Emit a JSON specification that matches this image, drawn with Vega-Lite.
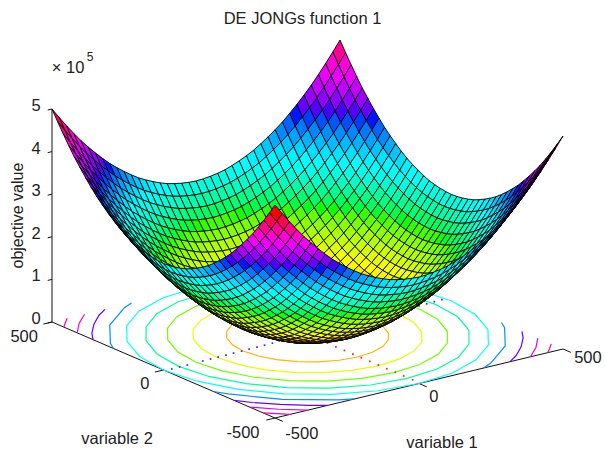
{"$schema":"https://vega.github.io/schema/vega-lite/v6.json","width":605,"height":452,"padding":0,"autosize":{"type":"none"},"background":"white","config":{"view":{"stroke":null}},
"title":{"text":"DE JONGs function 1","font":"Liberation Sans","fontSize":16.5,"fontWeight":"normal","color":"#222","offset":-27,"anchor":"middle"},
"params":[{"name":"s","value":25}],
"datasets":{
"axes":[{"a":-500,"b":-500,"z":0,"a2":500,"b2":-500,"z2":0},{"a":-500,"b":-500,"z":0,"a2":-500,"b2":500,"z2":0},{"a":-500,"b":500,"z":0,"a2":-500,"b2":500,"z2":5},
{"a":-500,"b":500,"z":0,"a2":-515,"b2":500,"z2":0},{"a":-500,"b":500,"z":1,"a2":-515,"b2":500,"z2":1},{"a":-500,"b":500,"z":2,"a2":-515,"b2":500,"z2":2},{"a":-500,"b":500,"z":3,"a2":-515,"b2":500,"z2":3},{"a":-500,"b":500,"z":4,"a2":-515,"b2":500,"z2":4},{"a":-500,"b":500,"z":5,"a2":-515,"b2":500,"z2":5},
{"a":-500,"b":-500,"z":0,"a2":-500,"b2":-535,"z2":0},{"a":0,"b":-500,"z":0,"a2":0,"b2":-535,"z2":0},{"a":500,"b":-500,"z":0,"a2":500,"b2":-535,"z2":0},
{"a":-500,"b":-500,"z":0,"a2":-530,"b2":-500,"z2":0},{"a":-500,"b":0,"z":0,"a2":-530,"b2":0,"z2":0},{"a":-500,"b":500,"z":0,"a2":-530,"b2":500,"z2":0}],
"dots":[{"series":"v1","a":-476,"b":-6},{"series":"v1","a":-448,"b":-5},{"series":"v1","a":-421,"b":-5},{"series":"v1","a":-366,"b":-3},{"series":"v1","a":-338,"b":-2},{"series":"v1","a":-311,"b":-1},{"series":"v1","a":-283,"b":0},{"series":"v1","a":-256,"b":1},{"series":"v1","a":-228,"b":1},{"series":"v1","a":-201,"b":2},{"series":"v1","a":-173,"b":3},{"series":"v1","a":-146,"b":4},{"series":"v1","a":-118,"b":5},{"series":"v1","a":-91,"b":9},{"series":"v1","a":402,"b":19},{"series":"v1","a":430,"b":21},{"series":"v1","a":458,"b":23},{"series":"v1","a":486,"b":25},
{"series":"v2","a":5,"b":-83},{"series":"v2","a":5,"b":-121},{"series":"v2","a":5,"b":-159},{"series":"v2","a":5,"b":-197},{"series":"v2","a":5,"b":-235},{"series":"v2","a":5,"b":-273},{"series":"v2","a":5,"b":-311},{"series":"v2","a":5,"b":-349},{"series":"v2","a":5,"b":-387},{"series":"v2","a":5,"b":-425},{"series":"v2","a":5,"b":-465}],
"contours":[
{"k":"c1","l":0.5,"a":224,"b":0},{"k":"c1","l":0.5,"a":216,"b":58},{"k":"c1","l":0.5,"a":194,"b":112},{"k":"c1","l":0.5,"a":158,"b":158},{"k":"c1","l":0.5,"a":112,"b":194},{"k":"c1","l":0.5,"a":58,"b":216},{"k":"c1","l":0.5,"a":0,"b":224},{"k":"c1","l":0.5,"a":-58,"b":216},{"k":"c1","l":0.5,"a":-112,"b":194},{"k":"c1","l":0.5,"a":-158,"b":158},{"k":"c1","l":0.5,"a":-194,"b":112},{"k":"c1","l":0.5,"a":-216,"b":58},{"k":"c1","l":0.5,"a":-224,"b":0},{"k":"c1","l":0.5,"a":-216,"b":-58},{"k":"c1","l":0.5,"a":-194,"b":-112},{"k":"c1","l":0.5,"a":-158,"b":-158},{"k":"c1","l":0.5,"a":-112,"b":-194},{"k":"c1","l":0.5,"a":-58,"b":-216},{"k":"c1","l":0.5,"a":0,"b":-224},{"k":"c1","l":0.5,"a":58,"b":-216},{"k":"c1","l":0.5,"a":112,"b":-194},{"k":"c1","l":0.5,"a":158,"b":-158},{"k":"c1","l":0.5,"a":194,"b":-112},{"k":"c1","l":0.5,"a":216,"b":-58},{"k":"c1","l":0.5,"a":224,"b":0},
{"k":"c2","l":1,"a":316,"b":0},{"k":"c2","l":1,"a":305,"b":82},{"k":"c2","l":1,"a":274,"b":158},{"k":"c2","l":1,"a":224,"b":224},{"k":"c2","l":1,"a":158,"b":274},{"k":"c2","l":1,"a":82,"b":305},{"k":"c2","l":1,"a":0,"b":316},{"k":"c2","l":1,"a":-82,"b":305},{"k":"c2","l":1,"a":-158,"b":274},{"k":"c2","l":1,"a":-224,"b":224},{"k":"c2","l":1,"a":-274,"b":158},{"k":"c2","l":1,"a":-305,"b":82},{"k":"c2","l":1,"a":-316,"b":0},{"k":"c2","l":1,"a":-305,"b":-82},{"k":"c2","l":1,"a":-274,"b":-158},{"k":"c2","l":1,"a":-224,"b":-224},{"k":"c2","l":1,"a":-158,"b":-274},{"k":"c2","l":1,"a":-82,"b":-305},{"k":"c2","l":1,"a":0,"b":-316},{"k":"c2","l":1,"a":82,"b":-305},{"k":"c2","l":1,"a":158,"b":-274},{"k":"c2","l":1,"a":224,"b":-224},{"k":"c2","l":1,"a":274,"b":-158},{"k":"c2","l":1,"a":305,"b":-82},{"k":"c2","l":1,"a":316,"b":0},
{"k":"c3","l":1.5,"a":387,"b":0},{"k":"c3","l":1.5,"a":374,"b":100},{"k":"c3","l":1.5,"a":335,"b":194},{"k":"c3","l":1.5,"a":274,"b":274},{"k":"c3","l":1.5,"a":194,"b":335},{"k":"c3","l":1.5,"a":100,"b":374},{"k":"c3","l":1.5,"a":0,"b":387},{"k":"c3","l":1.5,"a":-100,"b":374},{"k":"c3","l":1.5,"a":-194,"b":335},{"k":"c3","l":1.5,"a":-274,"b":274},{"k":"c3","l":1.5,"a":-335,"b":194},{"k":"c3","l":1.5,"a":-374,"b":100},{"k":"c3","l":1.5,"a":-387,"b":0},{"k":"c3","l":1.5,"a":-374,"b":-100},{"k":"c3","l":1.5,"a":-335,"b":-194},{"k":"c3","l":1.5,"a":-274,"b":-274},{"k":"c3","l":1.5,"a":-194,"b":-335},{"k":"c3","l":1.5,"a":-100,"b":-374},{"k":"c3","l":1.5,"a":0,"b":-387},{"k":"c3","l":1.5,"a":100,"b":-374},{"k":"c3","l":1.5,"a":194,"b":-335},{"k":"c3","l":1.5,"a":274,"b":-274},{"k":"c3","l":1.5,"a":335,"b":-194},{"k":"c3","l":1.5,"a":374,"b":-100},{"k":"c3","l":1.5,"a":387,"b":0},
{"k":"c4","l":2,"a":447,"b":0},{"k":"c4","l":2,"a":432,"b":116},{"k":"c4","l":2,"a":387,"b":224},{"k":"c4","l":2,"a":316,"b":316},{"k":"c4","l":2,"a":224,"b":387},{"k":"c4","l":2,"a":116,"b":432},{"k":"c4","l":2,"a":0,"b":447},{"k":"c4","l":2,"a":-116,"b":432},{"k":"c4","l":2,"a":-224,"b":387},{"k":"c4","l":2,"a":-316,"b":316},{"k":"c4","l":2,"a":-387,"b":224},{"k":"c4","l":2,"a":-432,"b":116},{"k":"c4","l":2,"a":-447,"b":0},{"k":"c4","l":2,"a":-432,"b":-116},{"k":"c4","l":2,"a":-387,"b":-224},{"k":"c4","l":2,"a":-316,"b":-316},{"k":"c4","l":2,"a":-224,"b":-387},{"k":"c4","l":2,"a":-116,"b":-432},{"k":"c4","l":2,"a":0,"b":-447},{"k":"c4","l":2,"a":116,"b":-432},{"k":"c4","l":2,"a":224,"b":-387},{"k":"c4","l":2,"a":316,"b":-316},{"k":"c4","l":2,"a":387,"b":-224},{"k":"c4","l":2,"a":432,"b":-116},{"k":"c4","l":2,"a":447,"b":0},
{"k":"c5","l":2.5,"a":500,"b":0},{"k":"c5","l":2.5,"a":483,"b":129},{"k":"c5","l":2.5,"a":433,"b":250},{"k":"c5","l":2.5,"a":354,"b":354},{"k":"c5","l":2.5,"a":250,"b":433},{"k":"c5","l":2.5,"a":129,"b":483},{"k":"c5","l":2.5,"a":0,"b":500},{"k":"c5","l":2.5,"a":-129,"b":483},{"k":"c5","l":2.5,"a":-250,"b":433},{"k":"c5","l":2.5,"a":-354,"b":354},{"k":"c5","l":2.5,"a":-433,"b":250},{"k":"c5","l":2.5,"a":-483,"b":129},{"k":"c5","l":2.5,"a":-500,"b":0},{"k":"c5","l":2.5,"a":-483,"b":-129},{"k":"c5","l":2.5,"a":-433,"b":-250},{"k":"c5","l":2.5,"a":-354,"b":-354},{"k":"c5","l":2.5,"a":-250,"b":-433},{"k":"c5","l":2.5,"a":-129,"b":-483},{"k":"c5","l":2.5,"a":0,"b":-500},{"k":"c5","l":2.5,"a":129,"b":-483},{"k":"c5","l":2.5,"a":250,"b":-433},{"k":"c5","l":2.5,"a":354,"b":-354},{"k":"c5","l":2.5,"a":433,"b":-250},{"k":"c5","l":2.5,"a":483,"b":-129},{"k":"c5","l":2.5,"a":500,"b":0},
{"k":"f6","l":3,"a":-500,"b":-224},{"k":"f6","l":3,"a":-480,"b":-264},{"k":"f6","l":3,"a":-387,"b":-387},{"k":"f6","l":3,"a":-264,"b":-480},{"k":"f6","l":3,"a":-224,"b":-500},
{"k":"f7","l":3.5,"a":-500,"b":-316},{"k":"f7","l":3.5,"a":-470,"b":-360},{"k":"f7","l":3.5,"a":-418,"b":-418},{"k":"f7","l":3.5,"a":-360,"b":-470},{"k":"f7","l":3.5,"a":-316,"b":-500},
{"k":"f8","l":4,"a":-500,"b":-387},{"k":"f8","l":4,"a":-447,"b":-447},{"k":"f8","l":4,"a":-387,"b":-500},
{"k":"f9","l":4.5,"a":-500,"b":-447},{"k":"f9","l":4.5,"a":-474,"b":-474},{"k":"f9","l":4.5,"a":-447,"b":-500},
{"k":"l6","l":3,"a":-500,"b":224},{"k":"l6","l":3,"a":-480,"b":264},{"k":"l6","l":3,"a":-387,"b":387},{"k":"l6","l":3,"a":-264,"b":480},{"k":"l6","l":3,"a":-224,"b":500},
{"k":"l7","l":3.5,"a":-500,"b":316},{"k":"l7","l":3.5,"a":-470,"b":360},{"k":"l7","l":3.5,"a":-418,"b":418},{"k":"l7","l":3.5,"a":-360,"b":470},{"k":"l7","l":3.5,"a":-316,"b":500},
{"k":"l8","l":4,"a":-500,"b":387},{"k":"l8","l":4,"a":-447,"b":447},{"k":"l8","l":4,"a":-387,"b":500},
{"k":"l9","l":4.5,"a":-500,"b":447},{"k":"l9","l":4.5,"a":-474,"b":474},{"k":"l9","l":4.5,"a":-447,"b":500},
{"k":"r6","l":3,"a":500,"b":-224},{"k":"r6","l":3,"a":480,"b":-264},{"k":"r6","l":3,"a":387,"b":-387},{"k":"r6","l":3,"a":264,"b":-480},{"k":"r6","l":3,"a":224,"b":-500},
{"k":"r7","l":3.5,"a":500,"b":-316},{"k":"r7","l":3.5,"a":470,"b":-360},{"k":"r7","l":3.5,"a":418,"b":-418},{"k":"r7","l":3.5,"a":360,"b":-470},{"k":"r7","l":3.5,"a":316,"b":-500},
{"k":"r8","l":4,"a":500,"b":-387},{"k":"r8","l":4,"a":447,"b":-447},{"k":"r8","l":4,"a":387,"b":-500},
{"k":"r9","l":4.5,"a":500,"b":-447},{"k":"r9","l":4.5,"a":474,"b":-474},{"k":"r9","l":4.5,"a":447,"b":-500}],
"labels":[{"t":"500","a":-640,"b":444,"z":0},{"t":"0","a":-614,"b":-64,"z":0},{"t":"-500","a":-649,"b":-549,"z":0},{"t":"-500","a":-523,"b":-650,"z":0},{"t":"0","a":-37,"b":-614,"z":0},{"t":"500","a":509,"b":-600,"z":0},{"t":"variable 2","a":-961,"b":-387,"z":0},{"t":"variable 1","a":-257,"b":-935,"z":0},{"t":"0","a":-520,"b":545,"z":0},{"t":"1","a":-520,"b":545,"z":1},{"t":"2","a":-520,"b":545,"z":2},{"t":"3","a":-520,"b":545,"z":3},{"t":"4","a":-520,"b":545,"z":4},{"t":"5","a":-520,"b":545,"z":5},{"t":"× 10","a":-444,"b":500,"z":5.87}],
"sup":[{"t":"5","a":-368,"b":500,"z":6}],
"zlabel":[{"t":"objective value","a":-576,"b":554,"z":2.5}],
"surface":[
{"a":500,"b":500,"z":5},{"a":500,"b":475,"z":4.76},{"a":500,"b":450,"z":4.53},{"a":500,"b":425,"z":4.31},{"a":500,"b":400,"z":4.1},{"a":500,"b":375,"z":3.91},{"a":500,"b":350,"z":3.73},{"a":500,"b":325,"z":3.56},{"a":500,"b":300,"z":3.4},{"a":500,"b":275,"z":3.26},{"a":500,"b":250,"z":3.13},{"a":500,"b":225,"z":3.01},{"a":500,"b":200,"z":2.9},{"a":500,"b":175,"z":2.81},{"a":500,"b":150,"z":2.73},{"a":500,"b":125,"z":2.66},{"a":500,"b":100,"z":2.6},{"a":500,"b":75,"z":2.56},{"a":500,"b":50,"z":2.53},{"a":500,"b":25,"z":2.51},{"a":500,"b":0,"z":2.5},{"a":500,"b":-25,"z":2.51},{"a":500,"b":-50,"z":2.53},{"a":500,"b":-75,"z":2.56},{"a":500,"b":-100,"z":2.6},{"a":500,"b":-125,"z":2.66},{"a":500,"b":-150,"z":2.73},{"a":500,"b":-175,"z":2.81},{"a":500,"b":-200,"z":2.9},{"a":500,"b":-225,"z":3.01},{"a":500,"b":-250,"z":3.13},{"a":500,"b":-275,"z":3.26},{"a":500,"b":-300,"z":3.4},{"a":500,"b":-325,"z":3.56},{"a":500,"b":-350,"z":3.73},{"a":500,"b":-375,"z":3.91},{"a":500,"b":-400,"z":4.1},{"a":500,"b":-425,"z":4.31},{"a":500,"b":-450,"z":4.53},{"a":500,"b":-475,"z":4.76},{"a":500,"b":-500,"z":5},
{"a":475,"b":500,"z":4.76},{"a":475,"b":475,"z":4.52},{"a":475,"b":450,"z":4.29},{"a":475,"b":425,"z":4.07},{"a":475,"b":400,"z":3.86},{"a":475,"b":375,"z":3.67},{"a":475,"b":350,"z":3.49},{"a":475,"b":325,"z":3.32},{"a":475,"b":300,"z":3.16},{"a":475,"b":275,"z":3.02},{"a":475,"b":250,"z":2.89},{"a":475,"b":225,"z":2.77},{"a":475,"b":200,"z":2.66},{"a":475,"b":175,"z":2.57},{"a":475,"b":150,"z":2.49},{"a":475,"b":125,"z":2.42},{"a":475,"b":100,"z":2.36},{"a":475,"b":75,"z":2.32},{"a":475,"b":50,"z":2.29},{"a":475,"b":25,"z":2.27},{"a":475,"b":0,"z":2.26},{"a":475,"b":-25,"z":2.27},{"a":475,"b":-50,"z":2.29},{"a":475,"b":-75,"z":2.32},{"a":475,"b":-100,"z":2.36},{"a":475,"b":-125,"z":2.42},{"a":475,"b":-150,"z":2.49},{"a":475,"b":-175,"z":2.57},{"a":475,"b":-200,"z":2.66},{"a":475,"b":-225,"z":2.77},{"a":475,"b":-250,"z":2.89},{"a":475,"b":-275,"z":3.02},{"a":475,"b":-300,"z":3.16},{"a":475,"b":-325,"z":3.32},{"a":475,"b":-350,"z":3.49},{"a":475,"b":-375,"z":3.67},{"a":475,"b":-400,"z":3.86},{"a":475,"b":-425,"z":4.07},{"a":475,"b":-450,"z":4.29},{"a":475,"b":-475,"z":4.52},{"a":475,"b":-500,"z":4.76},
{"a":450,"b":500,"z":4.53},{"a":450,"b":475,"z":4.29},{"a":450,"b":450,"z":4.06},{"a":450,"b":425,"z":3.84},{"a":450,"b":400,"z":3.63},{"a":450,"b":375,"z":3.44},{"a":450,"b":350,"z":3.26},{"a":450,"b":325,"z":3.09},{"a":450,"b":300,"z":2.93},{"a":450,"b":275,"z":2.79},{"a":450,"b":250,"z":2.66},{"a":450,"b":225,"z":2.54},{"a":450,"b":200,"z":2.43},{"a":450,"b":175,"z":2.34},{"a":450,"b":150,"z":2.26},{"a":450,"b":125,"z":2.19},{"a":450,"b":100,"z":2.13},{"a":450,"b":75,"z":2.09},{"a":450,"b":50,"z":2.06},{"a":450,"b":25,"z":2.04},{"a":450,"b":0,"z":2.03},{"a":450,"b":-25,"z":2.04},{"a":450,"b":-50,"z":2.06},{"a":450,"b":-75,"z":2.09},{"a":450,"b":-100,"z":2.13},{"a":450,"b":-125,"z":2.19},{"a":450,"b":-150,"z":2.26},{"a":450,"b":-175,"z":2.34},{"a":450,"b":-200,"z":2.43},{"a":450,"b":-225,"z":2.54},{"a":450,"b":-250,"z":2.66},{"a":450,"b":-275,"z":2.79},{"a":450,"b":-300,"z":2.93},{"a":450,"b":-325,"z":3.09},{"a":450,"b":-350,"z":3.26},{"a":450,"b":-375,"z":3.44},{"a":450,"b":-400,"z":3.63},{"a":450,"b":-425,"z":3.84},{"a":450,"b":-450,"z":4.06},{"a":450,"b":-475,"z":4.29},{"a":450,"b":-500,"z":4.53},
{"a":425,"b":500,"z":4.31},{"a":425,"b":475,"z":4.07},{"a":425,"b":450,"z":3.84},{"a":425,"b":425,"z":3.62},{"a":425,"b":400,"z":3.41},{"a":425,"b":375,"z":3.22},{"a":425,"b":350,"z":3.04},{"a":425,"b":325,"z":2.87},{"a":425,"b":300,"z":2.71},{"a":425,"b":275,"z":2.57},{"a":425,"b":250,"z":2.44},{"a":425,"b":225,"z":2.32},{"a":425,"b":200,"z":2.21},{"a":425,"b":175,"z":2.12},{"a":425,"b":150,"z":2.04},{"a":425,"b":125,"z":1.97},{"a":425,"b":100,"z":1.91},{"a":425,"b":75,"z":1.87},{"a":425,"b":50,"z":1.84},{"a":425,"b":25,"z":1.82},{"a":425,"b":0,"z":1.81},{"a":425,"b":-25,"z":1.82},{"a":425,"b":-50,"z":1.84},{"a":425,"b":-75,"z":1.87},{"a":425,"b":-100,"z":1.91},{"a":425,"b":-125,"z":1.97},{"a":425,"b":-150,"z":2.04},{"a":425,"b":-175,"z":2.12},{"a":425,"b":-200,"z":2.21},{"a":425,"b":-225,"z":2.32},{"a":425,"b":-250,"z":2.44},{"a":425,"b":-275,"z":2.57},{"a":425,"b":-300,"z":2.71},{"a":425,"b":-325,"z":2.87},{"a":425,"b":-350,"z":3.04},{"a":425,"b":-375,"z":3.22},{"a":425,"b":-400,"z":3.41},{"a":425,"b":-425,"z":3.62},{"a":425,"b":-450,"z":3.84},{"a":425,"b":-475,"z":4.07},{"a":425,"b":-500,"z":4.31},
{"a":400,"b":500,"z":4.1},{"a":400,"b":475,"z":3.86},{"a":400,"b":450,"z":3.63},{"a":400,"b":425,"z":3.41},{"a":400,"b":400,"z":3.2},{"a":400,"b":375,"z":3.01},{"a":400,"b":350,"z":2.83},{"a":400,"b":325,"z":2.66},{"a":400,"b":300,"z":2.5},{"a":400,"b":275,"z":2.36},{"a":400,"b":250,"z":2.23},{"a":400,"b":225,"z":2.11},{"a":400,"b":200,"z":2},{"a":400,"b":175,"z":1.91},{"a":400,"b":150,"z":1.83},{"a":400,"b":125,"z":1.76},{"a":400,"b":100,"z":1.7},{"a":400,"b":75,"z":1.66},{"a":400,"b":50,"z":1.63},{"a":400,"b":25,"z":1.61},{"a":400,"b":0,"z":1.6},{"a":400,"b":-25,"z":1.61},{"a":400,"b":-50,"z":1.63},{"a":400,"b":-75,"z":1.66},{"a":400,"b":-100,"z":1.7},{"a":400,"b":-125,"z":1.76},{"a":400,"b":-150,"z":1.83},{"a":400,"b":-175,"z":1.91},{"a":400,"b":-200,"z":2},{"a":400,"b":-225,"z":2.11},{"a":400,"b":-250,"z":2.23},{"a":400,"b":-275,"z":2.36},{"a":400,"b":-300,"z":2.5},{"a":400,"b":-325,"z":2.66},{"a":400,"b":-350,"z":2.83},{"a":400,"b":-375,"z":3.01},{"a":400,"b":-400,"z":3.2},{"a":400,"b":-425,"z":3.41},{"a":400,"b":-450,"z":3.63},{"a":400,"b":-475,"z":3.86},{"a":400,"b":-500,"z":4.1},
{"a":375,"b":500,"z":3.91},{"a":375,"b":475,"z":3.67},{"a":375,"b":450,"z":3.44},{"a":375,"b":425,"z":3.22},{"a":375,"b":400,"z":3.01},{"a":375,"b":375,"z":2.82},{"a":375,"b":350,"z":2.64},{"a":375,"b":325,"z":2.47},{"a":375,"b":300,"z":2.31},{"a":375,"b":275,"z":2.17},{"a":375,"b":250,"z":2.04},{"a":375,"b":225,"z":1.92},{"a":375,"b":200,"z":1.81},{"a":375,"b":175,"z":1.72},{"a":375,"b":150,"z":1.64},{"a":375,"b":125,"z":1.57},{"a":375,"b":100,"z":1.51},{"a":375,"b":75,"z":1.47},{"a":375,"b":50,"z":1.44},{"a":375,"b":25,"z":1.42},{"a":375,"b":0,"z":1.41},{"a":375,"b":-25,"z":1.42},{"a":375,"b":-50,"z":1.44},{"a":375,"b":-75,"z":1.47},{"a":375,"b":-100,"z":1.51},{"a":375,"b":-125,"z":1.57},{"a":375,"b":-150,"z":1.64},{"a":375,"b":-175,"z":1.72},{"a":375,"b":-200,"z":1.81},{"a":375,"b":-225,"z":1.92},{"a":375,"b":-250,"z":2.04},{"a":375,"b":-275,"z":2.17},{"a":375,"b":-300,"z":2.31},{"a":375,"b":-325,"z":2.47},{"a":375,"b":-350,"z":2.64},{"a":375,"b":-375,"z":2.82},{"a":375,"b":-400,"z":3.01},{"a":375,"b":-425,"z":3.22},{"a":375,"b":-450,"z":3.44},{"a":375,"b":-475,"z":3.67},{"a":375,"b":-500,"z":3.91},
{"a":350,"b":500,"z":3.73},{"a":350,"b":475,"z":3.49},{"a":350,"b":450,"z":3.26},{"a":350,"b":425,"z":3.04},{"a":350,"b":400,"z":2.83},{"a":350,"b":375,"z":2.64},{"a":350,"b":350,"z":2.46},{"a":350,"b":325,"z":2.29},{"a":350,"b":300,"z":2.13},{"a":350,"b":275,"z":1.99},{"a":350,"b":250,"z":1.86},{"a":350,"b":225,"z":1.74},{"a":350,"b":200,"z":1.63},{"a":350,"b":175,"z":1.54},{"a":350,"b":150,"z":1.46},{"a":350,"b":125,"z":1.39},{"a":350,"b":100,"z":1.33},{"a":350,"b":75,"z":1.29},{"a":350,"b":50,"z":1.26},{"a":350,"b":25,"z":1.24},{"a":350,"b":0,"z":1.23},{"a":350,"b":-25,"z":1.24},{"a":350,"b":-50,"z":1.26},{"a":350,"b":-75,"z":1.29},{"a":350,"b":-100,"z":1.33},{"a":350,"b":-125,"z":1.39},{"a":350,"b":-150,"z":1.46},{"a":350,"b":-175,"z":1.54},{"a":350,"b":-200,"z":1.63},{"a":350,"b":-225,"z":1.74},{"a":350,"b":-250,"z":1.86},{"a":350,"b":-275,"z":1.99},{"a":350,"b":-300,"z":2.13},{"a":350,"b":-325,"z":2.29},{"a":350,"b":-350,"z":2.46},{"a":350,"b":-375,"z":2.64},{"a":350,"b":-400,"z":2.83},{"a":350,"b":-425,"z":3.04},{"a":350,"b":-450,"z":3.26},{"a":350,"b":-475,"z":3.49},{"a":350,"b":-500,"z":3.73},
{"a":325,"b":500,"z":3.56},{"a":325,"b":475,"z":3.32},{"a":325,"b":450,"z":3.09},{"a":325,"b":425,"z":2.87},{"a":325,"b":400,"z":2.66},{"a":325,"b":375,"z":2.47},{"a":325,"b":350,"z":2.29},{"a":325,"b":325,"z":2.12},{"a":325,"b":300,"z":1.96},{"a":325,"b":275,"z":1.82},{"a":325,"b":250,"z":1.69},{"a":325,"b":225,"z":1.57},{"a":325,"b":200,"z":1.46},{"a":325,"b":175,"z":1.37},{"a":325,"b":150,"z":1.29},{"a":325,"b":125,"z":1.22},{"a":325,"b":100,"z":1.16},{"a":325,"b":75,"z":1.12},{"a":325,"b":50,"z":1.09},{"a":325,"b":25,"z":1.07},{"a":325,"b":0,"z":1.06},{"a":325,"b":-25,"z":1.07},{"a":325,"b":-50,"z":1.09},{"a":325,"b":-75,"z":1.12},{"a":325,"b":-100,"z":1.16},{"a":325,"b":-125,"z":1.22},{"a":325,"b":-150,"z":1.29},{"a":325,"b":-175,"z":1.37},{"a":325,"b":-200,"z":1.46},{"a":325,"b":-225,"z":1.57},{"a":325,"b":-250,"z":1.69},{"a":325,"b":-275,"z":1.82},{"a":325,"b":-300,"z":1.96},{"a":325,"b":-325,"z":2.12},{"a":325,"b":-350,"z":2.29},{"a":325,"b":-375,"z":2.47},{"a":325,"b":-400,"z":2.66},{"a":325,"b":-425,"z":2.87},{"a":325,"b":-450,"z":3.09},{"a":325,"b":-475,"z":3.32},{"a":325,"b":-500,"z":3.56},
{"a":300,"b":500,"z":3.4},{"a":300,"b":475,"z":3.16},{"a":300,"b":450,"z":2.93},{"a":300,"b":425,"z":2.71},{"a":300,"b":400,"z":2.5},{"a":300,"b":375,"z":2.31},{"a":300,"b":350,"z":2.13},{"a":300,"b":325,"z":1.96},{"a":300,"b":300,"z":1.8},{"a":300,"b":275,"z":1.66},{"a":300,"b":250,"z":1.53},{"a":300,"b":225,"z":1.41},{"a":300,"b":200,"z":1.3},{"a":300,"b":175,"z":1.21},{"a":300,"b":150,"z":1.13},{"a":300,"b":125,"z":1.06},{"a":300,"b":100,"z":1},{"a":300,"b":75,"z":0.96},{"a":300,"b":50,"z":0.93},{"a":300,"b":25,"z":0.91},{"a":300,"b":0,"z":0.9},{"a":300,"b":-25,"z":0.91},{"a":300,"b":-50,"z":0.93},{"a":300,"b":-75,"z":0.96},{"a":300,"b":-100,"z":1},{"a":300,"b":-125,"z":1.06},{"a":300,"b":-150,"z":1.13},{"a":300,"b":-175,"z":1.21},{"a":300,"b":-200,"z":1.3},{"a":300,"b":-225,"z":1.41},{"a":300,"b":-250,"z":1.53},{"a":300,"b":-275,"z":1.66},{"a":300,"b":-300,"z":1.8},{"a":300,"b":-325,"z":1.96},{"a":300,"b":-350,"z":2.13},{"a":300,"b":-375,"z":2.31},{"a":300,"b":-400,"z":2.5},{"a":300,"b":-425,"z":2.71},{"a":300,"b":-450,"z":2.93},{"a":300,"b":-475,"z":3.16},{"a":300,"b":-500,"z":3.4},
{"a":275,"b":500,"z":3.26},{"a":275,"b":475,"z":3.02},{"a":275,"b":450,"z":2.79},{"a":275,"b":425,"z":2.57},{"a":275,"b":400,"z":2.36},{"a":275,"b":375,"z":2.17},{"a":275,"b":350,"z":1.99},{"a":275,"b":325,"z":1.82},{"a":275,"b":300,"z":1.66},{"a":275,"b":275,"z":1.52},{"a":275,"b":250,"z":1.39},{"a":275,"b":225,"z":1.27},{"a":275,"b":200,"z":1.16},{"a":275,"b":175,"z":1.07},{"a":275,"b":150,"z":0.99},{"a":275,"b":125,"z":0.92},{"a":275,"b":100,"z":0.86},{"a":275,"b":75,"z":0.82},{"a":275,"b":50,"z":0.79},{"a":275,"b":25,"z":0.77},{"a":275,"b":0,"z":0.76},{"a":275,"b":-25,"z":0.77},{"a":275,"b":-50,"z":0.79},{"a":275,"b":-75,"z":0.82},{"a":275,"b":-100,"z":0.86},{"a":275,"b":-125,"z":0.92},{"a":275,"b":-150,"z":0.99},{"a":275,"b":-175,"z":1.07},{"a":275,"b":-200,"z":1.16},{"a":275,"b":-225,"z":1.27},{"a":275,"b":-250,"z":1.39},{"a":275,"b":-275,"z":1.52},{"a":275,"b":-300,"z":1.66},{"a":275,"b":-325,"z":1.82},{"a":275,"b":-350,"z":1.99},{"a":275,"b":-375,"z":2.17},{"a":275,"b":-400,"z":2.36},{"a":275,"b":-425,"z":2.57},{"a":275,"b":-450,"z":2.79},{"a":275,"b":-475,"z":3.02},{"a":275,"b":-500,"z":3.26},
{"a":250,"b":500,"z":3.13},{"a":250,"b":475,"z":2.89},{"a":250,"b":450,"z":2.66},{"a":250,"b":425,"z":2.44},{"a":250,"b":400,"z":2.23},{"a":250,"b":375,"z":2.04},{"a":250,"b":350,"z":1.86},{"a":250,"b":325,"z":1.69},{"a":250,"b":300,"z":1.53},{"a":250,"b":275,"z":1.39},{"a":250,"b":250,"z":1.26},{"a":250,"b":225,"z":1.14},{"a":250,"b":200,"z":1.03},{"a":250,"b":175,"z":0.94},{"a":250,"b":150,"z":0.86},{"a":250,"b":125,"z":0.79},{"a":250,"b":100,"z":0.73},{"a":250,"b":75,"z":0.69},{"a":250,"b":50,"z":0.66},{"a":250,"b":25,"z":0.64},{"a":250,"b":0,"z":0.63},{"a":250,"b":-25,"z":0.64},{"a":250,"b":-50,"z":0.66},{"a":250,"b":-75,"z":0.69},{"a":250,"b":-100,"z":0.73},{"a":250,"b":-125,"z":0.79},{"a":250,"b":-150,"z":0.86},{"a":250,"b":-175,"z":0.94},{"a":250,"b":-200,"z":1.03},{"a":250,"b":-225,"z":1.14},{"a":250,"b":-250,"z":1.26},{"a":250,"b":-275,"z":1.39},{"a":250,"b":-300,"z":1.53},{"a":250,"b":-325,"z":1.69},{"a":250,"b":-350,"z":1.86},{"a":250,"b":-375,"z":2.04},{"a":250,"b":-400,"z":2.23},{"a":250,"b":-425,"z":2.44},{"a":250,"b":-450,"z":2.66},{"a":250,"b":-475,"z":2.89},{"a":250,"b":-500,"z":3.13},
{"a":225,"b":500,"z":3.01},{"a":225,"b":475,"z":2.77},{"a":225,"b":450,"z":2.54},{"a":225,"b":425,"z":2.32},{"a":225,"b":400,"z":2.11},{"a":225,"b":375,"z":1.92},{"a":225,"b":350,"z":1.74},{"a":225,"b":325,"z":1.57},{"a":225,"b":300,"z":1.41},{"a":225,"b":275,"z":1.27},{"a":225,"b":250,"z":1.14},{"a":225,"b":225,"z":1.02},{"a":225,"b":200,"z":0.91},{"a":225,"b":175,"z":0.82},{"a":225,"b":150,"z":0.74},{"a":225,"b":125,"z":0.67},{"a":225,"b":100,"z":0.61},{"a":225,"b":75,"z":0.57},{"a":225,"b":50,"z":0.54},{"a":225,"b":25,"z":0.52},{"a":225,"b":0,"z":0.51},{"a":225,"b":-25,"z":0.52},{"a":225,"b":-50,"z":0.54},{"a":225,"b":-75,"z":0.57},{"a":225,"b":-100,"z":0.61},{"a":225,"b":-125,"z":0.67},{"a":225,"b":-150,"z":0.74},{"a":225,"b":-175,"z":0.82},{"a":225,"b":-200,"z":0.91},{"a":225,"b":-225,"z":1.02},{"a":225,"b":-250,"z":1.14},{"a":225,"b":-275,"z":1.27},{"a":225,"b":-300,"z":1.41},{"a":225,"b":-325,"z":1.57},{"a":225,"b":-350,"z":1.74},{"a":225,"b":-375,"z":1.92},{"a":225,"b":-400,"z":2.11},{"a":225,"b":-425,"z":2.32},{"a":225,"b":-450,"z":2.54},{"a":225,"b":-475,"z":2.77},{"a":225,"b":-500,"z":3.01},
{"a":200,"b":500,"z":2.9},{"a":200,"b":475,"z":2.66},{"a":200,"b":450,"z":2.43},{"a":200,"b":425,"z":2.21},{"a":200,"b":400,"z":2},{"a":200,"b":375,"z":1.81},{"a":200,"b":350,"z":1.63},{"a":200,"b":325,"z":1.46},{"a":200,"b":300,"z":1.3},{"a":200,"b":275,"z":1.16},{"a":200,"b":250,"z":1.03},{"a":200,"b":225,"z":0.91},{"a":200,"b":200,"z":0.8},{"a":200,"b":175,"z":0.71},{"a":200,"b":150,"z":0.63},{"a":200,"b":125,"z":0.56},{"a":200,"b":100,"z":0.5},{"a":200,"b":75,"z":0.46},{"a":200,"b":50,"z":0.43},{"a":200,"b":25,"z":0.41},{"a":200,"b":0,"z":0.4},{"a":200,"b":-25,"z":0.41},{"a":200,"b":-50,"z":0.43},{"a":200,"b":-75,"z":0.46},{"a":200,"b":-100,"z":0.5},{"a":200,"b":-125,"z":0.56},{"a":200,"b":-150,"z":0.63},{"a":200,"b":-175,"z":0.71},{"a":200,"b":-200,"z":0.8},{"a":200,"b":-225,"z":0.91},{"a":200,"b":-250,"z":1.03},{"a":200,"b":-275,"z":1.16},{"a":200,"b":-300,"z":1.3},{"a":200,"b":-325,"z":1.46},{"a":200,"b":-350,"z":1.63},{"a":200,"b":-375,"z":1.81},{"a":200,"b":-400,"z":2},{"a":200,"b":-425,"z":2.21},{"a":200,"b":-450,"z":2.43},{"a":200,"b":-475,"z":2.66},{"a":200,"b":-500,"z":2.9},
{"a":175,"b":500,"z":2.81},{"a":175,"b":475,"z":2.57},{"a":175,"b":450,"z":2.34},{"a":175,"b":425,"z":2.12},{"a":175,"b":400,"z":1.91},{"a":175,"b":375,"z":1.72},{"a":175,"b":350,"z":1.54},{"a":175,"b":325,"z":1.37},{"a":175,"b":300,"z":1.21},{"a":175,"b":275,"z":1.07},{"a":175,"b":250,"z":0.94},{"a":175,"b":225,"z":0.82},{"a":175,"b":200,"z":0.71},{"a":175,"b":175,"z":0.62},{"a":175,"b":150,"z":0.54},{"a":175,"b":125,"z":0.47},{"a":175,"b":100,"z":0.41},{"a":175,"b":75,"z":0.37},{"a":175,"b":50,"z":0.34},{"a":175,"b":25,"z":0.32},{"a":175,"b":0,"z":0.31},{"a":175,"b":-25,"z":0.32},{"a":175,"b":-50,"z":0.34},{"a":175,"b":-75,"z":0.37},{"a":175,"b":-100,"z":0.41},{"a":175,"b":-125,"z":0.47},{"a":175,"b":-150,"z":0.54},{"a":175,"b":-175,"z":0.62},{"a":175,"b":-200,"z":0.71},{"a":175,"b":-225,"z":0.82},{"a":175,"b":-250,"z":0.94},{"a":175,"b":-275,"z":1.07},{"a":175,"b":-300,"z":1.21},{"a":175,"b":-325,"z":1.37},{"a":175,"b":-350,"z":1.54},{"a":175,"b":-375,"z":1.72},{"a":175,"b":-400,"z":1.91},{"a":175,"b":-425,"z":2.12},{"a":175,"b":-450,"z":2.34},{"a":175,"b":-475,"z":2.57},{"a":175,"b":-500,"z":2.81},
{"a":150,"b":500,"z":2.73},{"a":150,"b":475,"z":2.49},{"a":150,"b":450,"z":2.26},{"a":150,"b":425,"z":2.04},{"a":150,"b":400,"z":1.83},{"a":150,"b":375,"z":1.64},{"a":150,"b":350,"z":1.46},{"a":150,"b":325,"z":1.29},{"a":150,"b":300,"z":1.13},{"a":150,"b":275,"z":0.99},{"a":150,"b":250,"z":0.86},{"a":150,"b":225,"z":0.74},{"a":150,"b":200,"z":0.63},{"a":150,"b":175,"z":0.54},{"a":150,"b":150,"z":0.46},{"a":150,"b":125,"z":0.39},{"a":150,"b":100,"z":0.33},{"a":150,"b":75,"z":0.29},{"a":150,"b":50,"z":0.26},{"a":150,"b":25,"z":0.24},{"a":150,"b":0,"z":0.23},{"a":150,"b":-25,"z":0.24},{"a":150,"b":-50,"z":0.26},{"a":150,"b":-75,"z":0.29},{"a":150,"b":-100,"z":0.33},{"a":150,"b":-125,"z":0.39},{"a":150,"b":-150,"z":0.46},{"a":150,"b":-175,"z":0.54},{"a":150,"b":-200,"z":0.63},{"a":150,"b":-225,"z":0.74},{"a":150,"b":-250,"z":0.86},{"a":150,"b":-275,"z":0.99},{"a":150,"b":-300,"z":1.13},{"a":150,"b":-325,"z":1.29},{"a":150,"b":-350,"z":1.46},{"a":150,"b":-375,"z":1.64},{"a":150,"b":-400,"z":1.83},{"a":150,"b":-425,"z":2.04},{"a":150,"b":-450,"z":2.26},{"a":150,"b":-475,"z":2.49},{"a":150,"b":-500,"z":2.73},
{"a":125,"b":500,"z":2.66},{"a":125,"b":475,"z":2.42},{"a":125,"b":450,"z":2.19},{"a":125,"b":425,"z":1.97},{"a":125,"b":400,"z":1.76},{"a":125,"b":375,"z":1.57},{"a":125,"b":350,"z":1.39},{"a":125,"b":325,"z":1.22},{"a":125,"b":300,"z":1.06},{"a":125,"b":275,"z":0.92},{"a":125,"b":250,"z":0.79},{"a":125,"b":225,"z":0.67},{"a":125,"b":200,"z":0.56},{"a":125,"b":175,"z":0.47},{"a":125,"b":150,"z":0.39},{"a":125,"b":125,"z":0.32},{"a":125,"b":100,"z":0.26},{"a":125,"b":75,"z":0.22},{"a":125,"b":50,"z":0.19},{"a":125,"b":25,"z":0.17},{"a":125,"b":0,"z":0.16},{"a":125,"b":-25,"z":0.17},{"a":125,"b":-50,"z":0.19},{"a":125,"b":-75,"z":0.22},{"a":125,"b":-100,"z":0.26},{"a":125,"b":-125,"z":0.32},{"a":125,"b":-150,"z":0.39},{"a":125,"b":-175,"z":0.47},{"a":125,"b":-200,"z":0.56},{"a":125,"b":-225,"z":0.67},{"a":125,"b":-250,"z":0.79},{"a":125,"b":-275,"z":0.92},{"a":125,"b":-300,"z":1.06},{"a":125,"b":-325,"z":1.22},{"a":125,"b":-350,"z":1.39},{"a":125,"b":-375,"z":1.57},{"a":125,"b":-400,"z":1.76},{"a":125,"b":-425,"z":1.97},{"a":125,"b":-450,"z":2.19},{"a":125,"b":-475,"z":2.42},{"a":125,"b":-500,"z":2.66},
{"a":100,"b":500,"z":2.6},{"a":100,"b":475,"z":2.36},{"a":100,"b":450,"z":2.13},{"a":100,"b":425,"z":1.91},{"a":100,"b":400,"z":1.7},{"a":100,"b":375,"z":1.51},{"a":100,"b":350,"z":1.33},{"a":100,"b":325,"z":1.16},{"a":100,"b":300,"z":1},{"a":100,"b":275,"z":0.86},{"a":100,"b":250,"z":0.73},{"a":100,"b":225,"z":0.61},{"a":100,"b":200,"z":0.5},{"a":100,"b":175,"z":0.41},{"a":100,"b":150,"z":0.33},{"a":100,"b":125,"z":0.26},{"a":100,"b":100,"z":0.2},{"a":100,"b":75,"z":0.16},{"a":100,"b":50,"z":0.13},{"a":100,"b":25,"z":0.11},{"a":100,"b":0,"z":0.1},{"a":100,"b":-25,"z":0.11},{"a":100,"b":-50,"z":0.13},{"a":100,"b":-75,"z":0.16},{"a":100,"b":-100,"z":0.2},{"a":100,"b":-125,"z":0.26},{"a":100,"b":-150,"z":0.33},{"a":100,"b":-175,"z":0.41},{"a":100,"b":-200,"z":0.5},{"a":100,"b":-225,"z":0.61},{"a":100,"b":-250,"z":0.73},{"a":100,"b":-275,"z":0.86},{"a":100,"b":-300,"z":1},{"a":100,"b":-325,"z":1.16},{"a":100,"b":-350,"z":1.33},{"a":100,"b":-375,"z":1.51},{"a":100,"b":-400,"z":1.7},{"a":100,"b":-425,"z":1.91},{"a":100,"b":-450,"z":2.13},{"a":100,"b":-475,"z":2.36},{"a":100,"b":-500,"z":2.6},
{"a":75,"b":500,"z":2.56},{"a":75,"b":475,"z":2.32},{"a":75,"b":450,"z":2.09},{"a":75,"b":425,"z":1.87},{"a":75,"b":400,"z":1.66},{"a":75,"b":375,"z":1.47},{"a":75,"b":350,"z":1.29},{"a":75,"b":325,"z":1.12},{"a":75,"b":300,"z":0.96},{"a":75,"b":275,"z":0.82},{"a":75,"b":250,"z":0.69},{"a":75,"b":225,"z":0.57},{"a":75,"b":200,"z":0.46},{"a":75,"b":175,"z":0.37},{"a":75,"b":150,"z":0.29},{"a":75,"b":125,"z":0.22},{"a":75,"b":100,"z":0.16},{"a":75,"b":75,"z":0.12},{"a":75,"b":50,"z":0.09},{"a":75,"b":25,"z":0.07},{"a":75,"b":0,"z":0.06},{"a":75,"b":-25,"z":0.07},{"a":75,"b":-50,"z":0.09},{"a":75,"b":-75,"z":0.12},{"a":75,"b":-100,"z":0.16},{"a":75,"b":-125,"z":0.22},{"a":75,"b":-150,"z":0.29},{"a":75,"b":-175,"z":0.37},{"a":75,"b":-200,"z":0.46},{"a":75,"b":-225,"z":0.57},{"a":75,"b":-250,"z":0.69},{"a":75,"b":-275,"z":0.82},{"a":75,"b":-300,"z":0.96},{"a":75,"b":-325,"z":1.12},{"a":75,"b":-350,"z":1.29},{"a":75,"b":-375,"z":1.47},{"a":75,"b":-400,"z":1.66},{"a":75,"b":-425,"z":1.87},{"a":75,"b":-450,"z":2.09},{"a":75,"b":-475,"z":2.32},{"a":75,"b":-500,"z":2.56},
{"a":50,"b":500,"z":2.53},{"a":50,"b":475,"z":2.29},{"a":50,"b":450,"z":2.06},{"a":50,"b":425,"z":1.84},{"a":50,"b":400,"z":1.63},{"a":50,"b":375,"z":1.44},{"a":50,"b":350,"z":1.26},{"a":50,"b":325,"z":1.09},{"a":50,"b":300,"z":0.93},{"a":50,"b":275,"z":0.79},{"a":50,"b":250,"z":0.66},{"a":50,"b":225,"z":0.54},{"a":50,"b":200,"z":0.43},{"a":50,"b":175,"z":0.34},{"a":50,"b":150,"z":0.26},{"a":50,"b":125,"z":0.19},{"a":50,"b":100,"z":0.13},{"a":50,"b":75,"z":0.09},{"a":50,"b":50,"z":0.06},{"a":50,"b":25,"z":0.04},{"a":50,"b":0,"z":0.03},{"a":50,"b":-25,"z":0.04},{"a":50,"b":-50,"z":0.06},{"a":50,"b":-75,"z":0.09},{"a":50,"b":-100,"z":0.13},{"a":50,"b":-125,"z":0.19},{"a":50,"b":-150,"z":0.26},{"a":50,"b":-175,"z":0.34},{"a":50,"b":-200,"z":0.43},{"a":50,"b":-225,"z":0.54},{"a":50,"b":-250,"z":0.66},{"a":50,"b":-275,"z":0.79},{"a":50,"b":-300,"z":0.93},{"a":50,"b":-325,"z":1.09},{"a":50,"b":-350,"z":1.26},{"a":50,"b":-375,"z":1.44},{"a":50,"b":-400,"z":1.63},{"a":50,"b":-425,"z":1.84},{"a":50,"b":-450,"z":2.06},{"a":50,"b":-475,"z":2.29},{"a":50,"b":-500,"z":2.53},
{"a":25,"b":500,"z":2.51},{"a":25,"b":475,"z":2.27},{"a":25,"b":450,"z":2.04},{"a":25,"b":425,"z":1.82},{"a":25,"b":400,"z":1.61},{"a":25,"b":375,"z":1.42},{"a":25,"b":350,"z":1.24},{"a":25,"b":325,"z":1.07},{"a":25,"b":300,"z":0.91},{"a":25,"b":275,"z":0.77},{"a":25,"b":250,"z":0.64},{"a":25,"b":225,"z":0.52},{"a":25,"b":200,"z":0.41},{"a":25,"b":175,"z":0.32},{"a":25,"b":150,"z":0.24},{"a":25,"b":125,"z":0.17},{"a":25,"b":100,"z":0.11},{"a":25,"b":75,"z":0.07},{"a":25,"b":50,"z":0.04},{"a":25,"b":25,"z":0.02},{"a":25,"b":0,"z":0.01},{"a":25,"b":-25,"z":0.02},{"a":25,"b":-50,"z":0.04},{"a":25,"b":-75,"z":0.07},{"a":25,"b":-100,"z":0.11},{"a":25,"b":-125,"z":0.17},{"a":25,"b":-150,"z":0.24},{"a":25,"b":-175,"z":0.32},{"a":25,"b":-200,"z":0.41},{"a":25,"b":-225,"z":0.52},{"a":25,"b":-250,"z":0.64},{"a":25,"b":-275,"z":0.77},{"a":25,"b":-300,"z":0.91},{"a":25,"b":-325,"z":1.07},{"a":25,"b":-350,"z":1.24},{"a":25,"b":-375,"z":1.42},{"a":25,"b":-400,"z":1.61},{"a":25,"b":-425,"z":1.82},{"a":25,"b":-450,"z":2.04},{"a":25,"b":-475,"z":2.27},{"a":25,"b":-500,"z":2.51},
{"a":0,"b":500,"z":2.5},{"a":0,"b":475,"z":2.26},{"a":0,"b":450,"z":2.03},{"a":0,"b":425,"z":1.81},{"a":0,"b":400,"z":1.6},{"a":0,"b":375,"z":1.41},{"a":0,"b":350,"z":1.23},{"a":0,"b":325,"z":1.06},{"a":0,"b":300,"z":0.9},{"a":0,"b":275,"z":0.76},{"a":0,"b":250,"z":0.63},{"a":0,"b":225,"z":0.51},{"a":0,"b":200,"z":0.4},{"a":0,"b":175,"z":0.31},{"a":0,"b":150,"z":0.23},{"a":0,"b":125,"z":0.16},{"a":0,"b":100,"z":0.1},{"a":0,"b":75,"z":0.06},{"a":0,"b":50,"z":0.03},{"a":0,"b":25,"z":0.01},{"a":0,"b":0,"z":0},{"a":0,"b":-25,"z":0.01},{"a":0,"b":-50,"z":0.03},{"a":0,"b":-75,"z":0.06},{"a":0,"b":-100,"z":0.1},{"a":0,"b":-125,"z":0.16},{"a":0,"b":-150,"z":0.23},{"a":0,"b":-175,"z":0.31},{"a":0,"b":-200,"z":0.4},{"a":0,"b":-225,"z":0.51},{"a":0,"b":-250,"z":0.63},{"a":0,"b":-275,"z":0.76},{"a":0,"b":-300,"z":0.9},{"a":0,"b":-325,"z":1.06},{"a":0,"b":-350,"z":1.23},{"a":0,"b":-375,"z":1.41},{"a":0,"b":-400,"z":1.6},{"a":0,"b":-425,"z":1.81},{"a":0,"b":-450,"z":2.03},{"a":0,"b":-475,"z":2.26},{"a":0,"b":-500,"z":2.5},
{"a":-25,"b":500,"z":2.51},{"a":-25,"b":475,"z":2.27},{"a":-25,"b":450,"z":2.04},{"a":-25,"b":425,"z":1.82},{"a":-25,"b":400,"z":1.61},{"a":-25,"b":375,"z":1.42},{"a":-25,"b":350,"z":1.24},{"a":-25,"b":325,"z":1.07},{"a":-25,"b":300,"z":0.91},{"a":-25,"b":275,"z":0.77},{"a":-25,"b":250,"z":0.64},{"a":-25,"b":225,"z":0.52},{"a":-25,"b":200,"z":0.41},{"a":-25,"b":175,"z":0.32},{"a":-25,"b":150,"z":0.24},{"a":-25,"b":125,"z":0.17},{"a":-25,"b":100,"z":0.11},{"a":-25,"b":75,"z":0.07},{"a":-25,"b":50,"z":0.04},{"a":-25,"b":25,"z":0.02},{"a":-25,"b":0,"z":0.01},{"a":-25,"b":-25,"z":0.02},{"a":-25,"b":-50,"z":0.04},{"a":-25,"b":-75,"z":0.07},{"a":-25,"b":-100,"z":0.11},{"a":-25,"b":-125,"z":0.17},{"a":-25,"b":-150,"z":0.24},{"a":-25,"b":-175,"z":0.32},{"a":-25,"b":-200,"z":0.41},{"a":-25,"b":-225,"z":0.52},{"a":-25,"b":-250,"z":0.64},{"a":-25,"b":-275,"z":0.77},{"a":-25,"b":-300,"z":0.91},{"a":-25,"b":-325,"z":1.07},{"a":-25,"b":-350,"z":1.24},{"a":-25,"b":-375,"z":1.42},{"a":-25,"b":-400,"z":1.61},{"a":-25,"b":-425,"z":1.82},{"a":-25,"b":-450,"z":2.04},{"a":-25,"b":-475,"z":2.27},{"a":-25,"b":-500,"z":2.51},
{"a":-50,"b":500,"z":2.53},{"a":-50,"b":475,"z":2.29},{"a":-50,"b":450,"z":2.06},{"a":-50,"b":425,"z":1.84},{"a":-50,"b":400,"z":1.63},{"a":-50,"b":375,"z":1.44},{"a":-50,"b":350,"z":1.26},{"a":-50,"b":325,"z":1.09},{"a":-50,"b":300,"z":0.93},{"a":-50,"b":275,"z":0.79},{"a":-50,"b":250,"z":0.66},{"a":-50,"b":225,"z":0.54},{"a":-50,"b":200,"z":0.43},{"a":-50,"b":175,"z":0.34},{"a":-50,"b":150,"z":0.26},{"a":-50,"b":125,"z":0.19},{"a":-50,"b":100,"z":0.13},{"a":-50,"b":75,"z":0.09},{"a":-50,"b":50,"z":0.06},{"a":-50,"b":25,"z":0.04},{"a":-50,"b":0,"z":0.03},{"a":-50,"b":-25,"z":0.04},{"a":-50,"b":-50,"z":0.06},{"a":-50,"b":-75,"z":0.09},{"a":-50,"b":-100,"z":0.13},{"a":-50,"b":-125,"z":0.19},{"a":-50,"b":-150,"z":0.26},{"a":-50,"b":-175,"z":0.34},{"a":-50,"b":-200,"z":0.43},{"a":-50,"b":-225,"z":0.54},{"a":-50,"b":-250,"z":0.66},{"a":-50,"b":-275,"z":0.79},{"a":-50,"b":-300,"z":0.93},{"a":-50,"b":-325,"z":1.09},{"a":-50,"b":-350,"z":1.26},{"a":-50,"b":-375,"z":1.44},{"a":-50,"b":-400,"z":1.63},{"a":-50,"b":-425,"z":1.84},{"a":-50,"b":-450,"z":2.06},{"a":-50,"b":-475,"z":2.29},{"a":-50,"b":-500,"z":2.53},
{"a":-75,"b":500,"z":2.56},{"a":-75,"b":475,"z":2.32},{"a":-75,"b":450,"z":2.09},{"a":-75,"b":425,"z":1.87},{"a":-75,"b":400,"z":1.66},{"a":-75,"b":375,"z":1.47},{"a":-75,"b":350,"z":1.29},{"a":-75,"b":325,"z":1.12},{"a":-75,"b":300,"z":0.96},{"a":-75,"b":275,"z":0.82},{"a":-75,"b":250,"z":0.69},{"a":-75,"b":225,"z":0.57},{"a":-75,"b":200,"z":0.46},{"a":-75,"b":175,"z":0.37},{"a":-75,"b":150,"z":0.29},{"a":-75,"b":125,"z":0.22},{"a":-75,"b":100,"z":0.16},{"a":-75,"b":75,"z":0.12},{"a":-75,"b":50,"z":0.09},{"a":-75,"b":25,"z":0.07},{"a":-75,"b":0,"z":0.06},{"a":-75,"b":-25,"z":0.07},{"a":-75,"b":-50,"z":0.09},{"a":-75,"b":-75,"z":0.12},{"a":-75,"b":-100,"z":0.16},{"a":-75,"b":-125,"z":0.22},{"a":-75,"b":-150,"z":0.29},{"a":-75,"b":-175,"z":0.37},{"a":-75,"b":-200,"z":0.46},{"a":-75,"b":-225,"z":0.57},{"a":-75,"b":-250,"z":0.69},{"a":-75,"b":-275,"z":0.82},{"a":-75,"b":-300,"z":0.96},{"a":-75,"b":-325,"z":1.12},{"a":-75,"b":-350,"z":1.29},{"a":-75,"b":-375,"z":1.47},{"a":-75,"b":-400,"z":1.66},{"a":-75,"b":-425,"z":1.87},{"a":-75,"b":-450,"z":2.09},{"a":-75,"b":-475,"z":2.32},{"a":-75,"b":-500,"z":2.56},
{"a":-100,"b":500,"z":2.6},{"a":-100,"b":475,"z":2.36},{"a":-100,"b":450,"z":2.13},{"a":-100,"b":425,"z":1.91},{"a":-100,"b":400,"z":1.7},{"a":-100,"b":375,"z":1.51},{"a":-100,"b":350,"z":1.33},{"a":-100,"b":325,"z":1.16},{"a":-100,"b":300,"z":1},{"a":-100,"b":275,"z":0.86},{"a":-100,"b":250,"z":0.73},{"a":-100,"b":225,"z":0.61},{"a":-100,"b":200,"z":0.5},{"a":-100,"b":175,"z":0.41},{"a":-100,"b":150,"z":0.33},{"a":-100,"b":125,"z":0.26},{"a":-100,"b":100,"z":0.2},{"a":-100,"b":75,"z":0.16},{"a":-100,"b":50,"z":0.13},{"a":-100,"b":25,"z":0.11},{"a":-100,"b":0,"z":0.1},{"a":-100,"b":-25,"z":0.11},{"a":-100,"b":-50,"z":0.13},{"a":-100,"b":-75,"z":0.16},{"a":-100,"b":-100,"z":0.2},{"a":-100,"b":-125,"z":0.26},{"a":-100,"b":-150,"z":0.33},{"a":-100,"b":-175,"z":0.41},{"a":-100,"b":-200,"z":0.5},{"a":-100,"b":-225,"z":0.61},{"a":-100,"b":-250,"z":0.73},{"a":-100,"b":-275,"z":0.86},{"a":-100,"b":-300,"z":1},{"a":-100,"b":-325,"z":1.16},{"a":-100,"b":-350,"z":1.33},{"a":-100,"b":-375,"z":1.51},{"a":-100,"b":-400,"z":1.7},{"a":-100,"b":-425,"z":1.91},{"a":-100,"b":-450,"z":2.13},{"a":-100,"b":-475,"z":2.36},{"a":-100,"b":-500,"z":2.6},
{"a":-125,"b":500,"z":2.66},{"a":-125,"b":475,"z":2.42},{"a":-125,"b":450,"z":2.19},{"a":-125,"b":425,"z":1.97},{"a":-125,"b":400,"z":1.76},{"a":-125,"b":375,"z":1.57},{"a":-125,"b":350,"z":1.39},{"a":-125,"b":325,"z":1.22},{"a":-125,"b":300,"z":1.06},{"a":-125,"b":275,"z":0.92},{"a":-125,"b":250,"z":0.79},{"a":-125,"b":225,"z":0.67},{"a":-125,"b":200,"z":0.56},{"a":-125,"b":175,"z":0.47},{"a":-125,"b":150,"z":0.39},{"a":-125,"b":125,"z":0.32},{"a":-125,"b":100,"z":0.26},{"a":-125,"b":75,"z":0.22},{"a":-125,"b":50,"z":0.19},{"a":-125,"b":25,"z":0.17},{"a":-125,"b":0,"z":0.16},{"a":-125,"b":-25,"z":0.17},{"a":-125,"b":-50,"z":0.19},{"a":-125,"b":-75,"z":0.22},{"a":-125,"b":-100,"z":0.26},{"a":-125,"b":-125,"z":0.32},{"a":-125,"b":-150,"z":0.39},{"a":-125,"b":-175,"z":0.47},{"a":-125,"b":-200,"z":0.56},{"a":-125,"b":-225,"z":0.67},{"a":-125,"b":-250,"z":0.79},{"a":-125,"b":-275,"z":0.92},{"a":-125,"b":-300,"z":1.06},{"a":-125,"b":-325,"z":1.22},{"a":-125,"b":-350,"z":1.39},{"a":-125,"b":-375,"z":1.57},{"a":-125,"b":-400,"z":1.76},{"a":-125,"b":-425,"z":1.97},{"a":-125,"b":-450,"z":2.19},{"a":-125,"b":-475,"z":2.42},{"a":-125,"b":-500,"z":2.66},
{"a":-150,"b":500,"z":2.73},{"a":-150,"b":475,"z":2.49},{"a":-150,"b":450,"z":2.26},{"a":-150,"b":425,"z":2.04},{"a":-150,"b":400,"z":1.83},{"a":-150,"b":375,"z":1.64},{"a":-150,"b":350,"z":1.46},{"a":-150,"b":325,"z":1.29},{"a":-150,"b":300,"z":1.13},{"a":-150,"b":275,"z":0.99},{"a":-150,"b":250,"z":0.86},{"a":-150,"b":225,"z":0.74},{"a":-150,"b":200,"z":0.63},{"a":-150,"b":175,"z":0.54},{"a":-150,"b":150,"z":0.46},{"a":-150,"b":125,"z":0.39},{"a":-150,"b":100,"z":0.33},{"a":-150,"b":75,"z":0.29},{"a":-150,"b":50,"z":0.26},{"a":-150,"b":25,"z":0.24},{"a":-150,"b":0,"z":0.23},{"a":-150,"b":-25,"z":0.24},{"a":-150,"b":-50,"z":0.26},{"a":-150,"b":-75,"z":0.29},{"a":-150,"b":-100,"z":0.33},{"a":-150,"b":-125,"z":0.39},{"a":-150,"b":-150,"z":0.46},{"a":-150,"b":-175,"z":0.54},{"a":-150,"b":-200,"z":0.63},{"a":-150,"b":-225,"z":0.74},{"a":-150,"b":-250,"z":0.86},{"a":-150,"b":-275,"z":0.99},{"a":-150,"b":-300,"z":1.13},{"a":-150,"b":-325,"z":1.29},{"a":-150,"b":-350,"z":1.46},{"a":-150,"b":-375,"z":1.64},{"a":-150,"b":-400,"z":1.83},{"a":-150,"b":-425,"z":2.04},{"a":-150,"b":-450,"z":2.26},{"a":-150,"b":-475,"z":2.49},{"a":-150,"b":-500,"z":2.73},
{"a":-175,"b":500,"z":2.81},{"a":-175,"b":475,"z":2.57},{"a":-175,"b":450,"z":2.34},{"a":-175,"b":425,"z":2.12},{"a":-175,"b":400,"z":1.91},{"a":-175,"b":375,"z":1.72},{"a":-175,"b":350,"z":1.54},{"a":-175,"b":325,"z":1.37},{"a":-175,"b":300,"z":1.21},{"a":-175,"b":275,"z":1.07},{"a":-175,"b":250,"z":0.94},{"a":-175,"b":225,"z":0.82},{"a":-175,"b":200,"z":0.71},{"a":-175,"b":175,"z":0.62},{"a":-175,"b":150,"z":0.54},{"a":-175,"b":125,"z":0.47},{"a":-175,"b":100,"z":0.41},{"a":-175,"b":75,"z":0.37},{"a":-175,"b":50,"z":0.34},{"a":-175,"b":25,"z":0.32},{"a":-175,"b":0,"z":0.31},{"a":-175,"b":-25,"z":0.32},{"a":-175,"b":-50,"z":0.34},{"a":-175,"b":-75,"z":0.37},{"a":-175,"b":-100,"z":0.41},{"a":-175,"b":-125,"z":0.47},{"a":-175,"b":-150,"z":0.54},{"a":-175,"b":-175,"z":0.62},{"a":-175,"b":-200,"z":0.71},{"a":-175,"b":-225,"z":0.82},{"a":-175,"b":-250,"z":0.94},{"a":-175,"b":-275,"z":1.07},{"a":-175,"b":-300,"z":1.21},{"a":-175,"b":-325,"z":1.37},{"a":-175,"b":-350,"z":1.54},{"a":-175,"b":-375,"z":1.72},{"a":-175,"b":-400,"z":1.91},{"a":-175,"b":-425,"z":2.12},{"a":-175,"b":-450,"z":2.34},{"a":-175,"b":-475,"z":2.57},{"a":-175,"b":-500,"z":2.81},
{"a":-200,"b":500,"z":2.9},{"a":-200,"b":475,"z":2.66},{"a":-200,"b":450,"z":2.43},{"a":-200,"b":425,"z":2.21},{"a":-200,"b":400,"z":2},{"a":-200,"b":375,"z":1.81},{"a":-200,"b":350,"z":1.63},{"a":-200,"b":325,"z":1.46},{"a":-200,"b":300,"z":1.3},{"a":-200,"b":275,"z":1.16},{"a":-200,"b":250,"z":1.03},{"a":-200,"b":225,"z":0.91},{"a":-200,"b":200,"z":0.8},{"a":-200,"b":175,"z":0.71},{"a":-200,"b":150,"z":0.63},{"a":-200,"b":125,"z":0.56},{"a":-200,"b":100,"z":0.5},{"a":-200,"b":75,"z":0.46},{"a":-200,"b":50,"z":0.43},{"a":-200,"b":25,"z":0.41},{"a":-200,"b":0,"z":0.4},{"a":-200,"b":-25,"z":0.41},{"a":-200,"b":-50,"z":0.43},{"a":-200,"b":-75,"z":0.46},{"a":-200,"b":-100,"z":0.5},{"a":-200,"b":-125,"z":0.56},{"a":-200,"b":-150,"z":0.63},{"a":-200,"b":-175,"z":0.71},{"a":-200,"b":-200,"z":0.8},{"a":-200,"b":-225,"z":0.91},{"a":-200,"b":-250,"z":1.03},{"a":-200,"b":-275,"z":1.16},{"a":-200,"b":-300,"z":1.3},{"a":-200,"b":-325,"z":1.46},{"a":-200,"b":-350,"z":1.63},{"a":-200,"b":-375,"z":1.81},{"a":-200,"b":-400,"z":2},{"a":-200,"b":-425,"z":2.21},{"a":-200,"b":-450,"z":2.43},{"a":-200,"b":-475,"z":2.66},{"a":-200,"b":-500,"z":2.9},
{"a":-225,"b":500,"z":3.01},{"a":-225,"b":475,"z":2.77},{"a":-225,"b":450,"z":2.54},{"a":-225,"b":425,"z":2.32},{"a":-225,"b":400,"z":2.11},{"a":-225,"b":375,"z":1.92},{"a":-225,"b":350,"z":1.74},{"a":-225,"b":325,"z":1.57},{"a":-225,"b":300,"z":1.41},{"a":-225,"b":275,"z":1.27},{"a":-225,"b":250,"z":1.14},{"a":-225,"b":225,"z":1.02},{"a":-225,"b":200,"z":0.91},{"a":-225,"b":175,"z":0.82},{"a":-225,"b":150,"z":0.74},{"a":-225,"b":125,"z":0.67},{"a":-225,"b":100,"z":0.61},{"a":-225,"b":75,"z":0.57},{"a":-225,"b":50,"z":0.54},{"a":-225,"b":25,"z":0.52},{"a":-225,"b":0,"z":0.51},{"a":-225,"b":-25,"z":0.52},{"a":-225,"b":-50,"z":0.54},{"a":-225,"b":-75,"z":0.57},{"a":-225,"b":-100,"z":0.61},{"a":-225,"b":-125,"z":0.67},{"a":-225,"b":-150,"z":0.74},{"a":-225,"b":-175,"z":0.82},{"a":-225,"b":-200,"z":0.91},{"a":-225,"b":-225,"z":1.02},{"a":-225,"b":-250,"z":1.14},{"a":-225,"b":-275,"z":1.27},{"a":-225,"b":-300,"z":1.41},{"a":-225,"b":-325,"z":1.57},{"a":-225,"b":-350,"z":1.74},{"a":-225,"b":-375,"z":1.92},{"a":-225,"b":-400,"z":2.11},{"a":-225,"b":-425,"z":2.32},{"a":-225,"b":-450,"z":2.54},{"a":-225,"b":-475,"z":2.77},{"a":-225,"b":-500,"z":3.01},
{"a":-250,"b":500,"z":3.13},{"a":-250,"b":475,"z":2.89},{"a":-250,"b":450,"z":2.66},{"a":-250,"b":425,"z":2.44},{"a":-250,"b":400,"z":2.23},{"a":-250,"b":375,"z":2.04},{"a":-250,"b":350,"z":1.86},{"a":-250,"b":325,"z":1.69},{"a":-250,"b":300,"z":1.53},{"a":-250,"b":275,"z":1.39},{"a":-250,"b":250,"z":1.26},{"a":-250,"b":225,"z":1.14},{"a":-250,"b":200,"z":1.03},{"a":-250,"b":175,"z":0.94},{"a":-250,"b":150,"z":0.86},{"a":-250,"b":125,"z":0.79},{"a":-250,"b":100,"z":0.73},{"a":-250,"b":75,"z":0.69},{"a":-250,"b":50,"z":0.66},{"a":-250,"b":25,"z":0.64},{"a":-250,"b":0,"z":0.63},{"a":-250,"b":-25,"z":0.64},{"a":-250,"b":-50,"z":0.66},{"a":-250,"b":-75,"z":0.69},{"a":-250,"b":-100,"z":0.73},{"a":-250,"b":-125,"z":0.79},{"a":-250,"b":-150,"z":0.86},{"a":-250,"b":-175,"z":0.94},{"a":-250,"b":-200,"z":1.03},{"a":-250,"b":-225,"z":1.14},{"a":-250,"b":-250,"z":1.26},{"a":-250,"b":-275,"z":1.39},{"a":-250,"b":-300,"z":1.53},{"a":-250,"b":-325,"z":1.69},{"a":-250,"b":-350,"z":1.86},{"a":-250,"b":-375,"z":2.04},{"a":-250,"b":-400,"z":2.23},{"a":-250,"b":-425,"z":2.44},{"a":-250,"b":-450,"z":2.66},{"a":-250,"b":-475,"z":2.89},{"a":-250,"b":-500,"z":3.13},
{"a":-275,"b":500,"z":3.26},{"a":-275,"b":475,"z":3.02},{"a":-275,"b":450,"z":2.79},{"a":-275,"b":425,"z":2.57},{"a":-275,"b":400,"z":2.36},{"a":-275,"b":375,"z":2.17},{"a":-275,"b":350,"z":1.99},{"a":-275,"b":325,"z":1.82},{"a":-275,"b":300,"z":1.66},{"a":-275,"b":275,"z":1.52},{"a":-275,"b":250,"z":1.39},{"a":-275,"b":225,"z":1.27},{"a":-275,"b":200,"z":1.16},{"a":-275,"b":175,"z":1.07},{"a":-275,"b":150,"z":0.99},{"a":-275,"b":125,"z":0.92},{"a":-275,"b":100,"z":0.86},{"a":-275,"b":75,"z":0.82},{"a":-275,"b":50,"z":0.79},{"a":-275,"b":25,"z":0.77},{"a":-275,"b":0,"z":0.76},{"a":-275,"b":-25,"z":0.77},{"a":-275,"b":-50,"z":0.79},{"a":-275,"b":-75,"z":0.82},{"a":-275,"b":-100,"z":0.86},{"a":-275,"b":-125,"z":0.92},{"a":-275,"b":-150,"z":0.99},{"a":-275,"b":-175,"z":1.07},{"a":-275,"b":-200,"z":1.16},{"a":-275,"b":-225,"z":1.27},{"a":-275,"b":-250,"z":1.39},{"a":-275,"b":-275,"z":1.52},{"a":-275,"b":-300,"z":1.66},{"a":-275,"b":-325,"z":1.82},{"a":-275,"b":-350,"z":1.99},{"a":-275,"b":-375,"z":2.17},{"a":-275,"b":-400,"z":2.36},{"a":-275,"b":-425,"z":2.57},{"a":-275,"b":-450,"z":2.79},{"a":-275,"b":-475,"z":3.02},{"a":-275,"b":-500,"z":3.26},
{"a":-300,"b":500,"z":3.4},{"a":-300,"b":475,"z":3.16},{"a":-300,"b":450,"z":2.93},{"a":-300,"b":425,"z":2.71},{"a":-300,"b":400,"z":2.5},{"a":-300,"b":375,"z":2.31},{"a":-300,"b":350,"z":2.13},{"a":-300,"b":325,"z":1.96},{"a":-300,"b":300,"z":1.8},{"a":-300,"b":275,"z":1.66},{"a":-300,"b":250,"z":1.53},{"a":-300,"b":225,"z":1.41},{"a":-300,"b":200,"z":1.3},{"a":-300,"b":175,"z":1.21},{"a":-300,"b":150,"z":1.13},{"a":-300,"b":125,"z":1.06},{"a":-300,"b":100,"z":1},{"a":-300,"b":75,"z":0.96},{"a":-300,"b":50,"z":0.93},{"a":-300,"b":25,"z":0.91},{"a":-300,"b":0,"z":0.9},{"a":-300,"b":-25,"z":0.91},{"a":-300,"b":-50,"z":0.93},{"a":-300,"b":-75,"z":0.96},{"a":-300,"b":-100,"z":1},{"a":-300,"b":-125,"z":1.06},{"a":-300,"b":-150,"z":1.13},{"a":-300,"b":-175,"z":1.21},{"a":-300,"b":-200,"z":1.3},{"a":-300,"b":-225,"z":1.41},{"a":-300,"b":-250,"z":1.53},{"a":-300,"b":-275,"z":1.66},{"a":-300,"b":-300,"z":1.8},{"a":-300,"b":-325,"z":1.96},{"a":-300,"b":-350,"z":2.13},{"a":-300,"b":-375,"z":2.31},{"a":-300,"b":-400,"z":2.5},{"a":-300,"b":-425,"z":2.71},{"a":-300,"b":-450,"z":2.93},{"a":-300,"b":-475,"z":3.16},{"a":-300,"b":-500,"z":3.4},
{"a":-325,"b":500,"z":3.56},{"a":-325,"b":475,"z":3.32},{"a":-325,"b":450,"z":3.09},{"a":-325,"b":425,"z":2.87},{"a":-325,"b":400,"z":2.66},{"a":-325,"b":375,"z":2.47},{"a":-325,"b":350,"z":2.29},{"a":-325,"b":325,"z":2.12},{"a":-325,"b":300,"z":1.96},{"a":-325,"b":275,"z":1.82},{"a":-325,"b":250,"z":1.69},{"a":-325,"b":225,"z":1.57},{"a":-325,"b":200,"z":1.46},{"a":-325,"b":175,"z":1.37},{"a":-325,"b":150,"z":1.29},{"a":-325,"b":125,"z":1.22},{"a":-325,"b":100,"z":1.16},{"a":-325,"b":75,"z":1.12},{"a":-325,"b":50,"z":1.09},{"a":-325,"b":25,"z":1.07},{"a":-325,"b":0,"z":1.06},{"a":-325,"b":-25,"z":1.07},{"a":-325,"b":-50,"z":1.09},{"a":-325,"b":-75,"z":1.12},{"a":-325,"b":-100,"z":1.16},{"a":-325,"b":-125,"z":1.22},{"a":-325,"b":-150,"z":1.29},{"a":-325,"b":-175,"z":1.37},{"a":-325,"b":-200,"z":1.46},{"a":-325,"b":-225,"z":1.57},{"a":-325,"b":-250,"z":1.69},{"a":-325,"b":-275,"z":1.82},{"a":-325,"b":-300,"z":1.96},{"a":-325,"b":-325,"z":2.12},{"a":-325,"b":-350,"z":2.29},{"a":-325,"b":-375,"z":2.47},{"a":-325,"b":-400,"z":2.66},{"a":-325,"b":-425,"z":2.87},{"a":-325,"b":-450,"z":3.09},{"a":-325,"b":-475,"z":3.32},{"a":-325,"b":-500,"z":3.56},
{"a":-350,"b":500,"z":3.73},{"a":-350,"b":475,"z":3.49},{"a":-350,"b":450,"z":3.26},{"a":-350,"b":425,"z":3.04},{"a":-350,"b":400,"z":2.83},{"a":-350,"b":375,"z":2.64},{"a":-350,"b":350,"z":2.46},{"a":-350,"b":325,"z":2.29},{"a":-350,"b":300,"z":2.13},{"a":-350,"b":275,"z":1.99},{"a":-350,"b":250,"z":1.86},{"a":-350,"b":225,"z":1.74},{"a":-350,"b":200,"z":1.63},{"a":-350,"b":175,"z":1.54},{"a":-350,"b":150,"z":1.46},{"a":-350,"b":125,"z":1.39},{"a":-350,"b":100,"z":1.33},{"a":-350,"b":75,"z":1.29},{"a":-350,"b":50,"z":1.26},{"a":-350,"b":25,"z":1.24},{"a":-350,"b":0,"z":1.23},{"a":-350,"b":-25,"z":1.24},{"a":-350,"b":-50,"z":1.26},{"a":-350,"b":-75,"z":1.29},{"a":-350,"b":-100,"z":1.33},{"a":-350,"b":-125,"z":1.39},{"a":-350,"b":-150,"z":1.46},{"a":-350,"b":-175,"z":1.54},{"a":-350,"b":-200,"z":1.63},{"a":-350,"b":-225,"z":1.74},{"a":-350,"b":-250,"z":1.86},{"a":-350,"b":-275,"z":1.99},{"a":-350,"b":-300,"z":2.13},{"a":-350,"b":-325,"z":2.29},{"a":-350,"b":-350,"z":2.46},{"a":-350,"b":-375,"z":2.64},{"a":-350,"b":-400,"z":2.83},{"a":-350,"b":-425,"z":3.04},{"a":-350,"b":-450,"z":3.26},{"a":-350,"b":-475,"z":3.49},{"a":-350,"b":-500,"z":3.73},
{"a":-375,"b":500,"z":3.91},{"a":-375,"b":475,"z":3.67},{"a":-375,"b":450,"z":3.44},{"a":-375,"b":425,"z":3.22},{"a":-375,"b":400,"z":3.01},{"a":-375,"b":375,"z":2.82},{"a":-375,"b":350,"z":2.64},{"a":-375,"b":325,"z":2.47},{"a":-375,"b":300,"z":2.31},{"a":-375,"b":275,"z":2.17},{"a":-375,"b":250,"z":2.04},{"a":-375,"b":225,"z":1.92},{"a":-375,"b":200,"z":1.81},{"a":-375,"b":175,"z":1.72},{"a":-375,"b":150,"z":1.64},{"a":-375,"b":125,"z":1.57},{"a":-375,"b":100,"z":1.51},{"a":-375,"b":75,"z":1.47},{"a":-375,"b":50,"z":1.44},{"a":-375,"b":25,"z":1.42},{"a":-375,"b":0,"z":1.41},{"a":-375,"b":-25,"z":1.42},{"a":-375,"b":-50,"z":1.44},{"a":-375,"b":-75,"z":1.47},{"a":-375,"b":-100,"z":1.51},{"a":-375,"b":-125,"z":1.57},{"a":-375,"b":-150,"z":1.64},{"a":-375,"b":-175,"z":1.72},{"a":-375,"b":-200,"z":1.81},{"a":-375,"b":-225,"z":1.92},{"a":-375,"b":-250,"z":2.04},{"a":-375,"b":-275,"z":2.17},{"a":-375,"b":-300,"z":2.31},{"a":-375,"b":-325,"z":2.47},{"a":-375,"b":-350,"z":2.64},{"a":-375,"b":-375,"z":2.82},{"a":-375,"b":-400,"z":3.01},{"a":-375,"b":-425,"z":3.22},{"a":-375,"b":-450,"z":3.44},{"a":-375,"b":-475,"z":3.67},{"a":-375,"b":-500,"z":3.91},
{"a":-400,"b":500,"z":4.1},{"a":-400,"b":475,"z":3.86},{"a":-400,"b":450,"z":3.63},{"a":-400,"b":425,"z":3.41},{"a":-400,"b":400,"z":3.2},{"a":-400,"b":375,"z":3.01},{"a":-400,"b":350,"z":2.83},{"a":-400,"b":325,"z":2.66},{"a":-400,"b":300,"z":2.5},{"a":-400,"b":275,"z":2.36},{"a":-400,"b":250,"z":2.23},{"a":-400,"b":225,"z":2.11},{"a":-400,"b":200,"z":2},{"a":-400,"b":175,"z":1.91},{"a":-400,"b":150,"z":1.83},{"a":-400,"b":125,"z":1.76},{"a":-400,"b":100,"z":1.7},{"a":-400,"b":75,"z":1.66},{"a":-400,"b":50,"z":1.63},{"a":-400,"b":25,"z":1.61},{"a":-400,"b":0,"z":1.6},{"a":-400,"b":-25,"z":1.61},{"a":-400,"b":-50,"z":1.63},{"a":-400,"b":-75,"z":1.66},{"a":-400,"b":-100,"z":1.7},{"a":-400,"b":-125,"z":1.76},{"a":-400,"b":-150,"z":1.83},{"a":-400,"b":-175,"z":1.91},{"a":-400,"b":-200,"z":2},{"a":-400,"b":-225,"z":2.11},{"a":-400,"b":-250,"z":2.23},{"a":-400,"b":-275,"z":2.36},{"a":-400,"b":-300,"z":2.5},{"a":-400,"b":-325,"z":2.66},{"a":-400,"b":-350,"z":2.83},{"a":-400,"b":-375,"z":3.01},{"a":-400,"b":-400,"z":3.2},{"a":-400,"b":-425,"z":3.41},{"a":-400,"b":-450,"z":3.63},{"a":-400,"b":-475,"z":3.86},{"a":-400,"b":-500,"z":4.1},
{"a":-425,"b":500,"z":4.31},{"a":-425,"b":475,"z":4.07},{"a":-425,"b":450,"z":3.84},{"a":-425,"b":425,"z":3.62},{"a":-425,"b":400,"z":3.41},{"a":-425,"b":375,"z":3.22},{"a":-425,"b":350,"z":3.04},{"a":-425,"b":325,"z":2.87},{"a":-425,"b":300,"z":2.71},{"a":-425,"b":275,"z":2.57},{"a":-425,"b":250,"z":2.44},{"a":-425,"b":225,"z":2.32},{"a":-425,"b":200,"z":2.21},{"a":-425,"b":175,"z":2.12},{"a":-425,"b":150,"z":2.04},{"a":-425,"b":125,"z":1.97},{"a":-425,"b":100,"z":1.91},{"a":-425,"b":75,"z":1.87},{"a":-425,"b":50,"z":1.84},{"a":-425,"b":25,"z":1.82},{"a":-425,"b":0,"z":1.81},{"a":-425,"b":-25,"z":1.82},{"a":-425,"b":-50,"z":1.84},{"a":-425,"b":-75,"z":1.87},{"a":-425,"b":-100,"z":1.91},{"a":-425,"b":-125,"z":1.97},{"a":-425,"b":-150,"z":2.04},{"a":-425,"b":-175,"z":2.12},{"a":-425,"b":-200,"z":2.21},{"a":-425,"b":-225,"z":2.32},{"a":-425,"b":-250,"z":2.44},{"a":-425,"b":-275,"z":2.57},{"a":-425,"b":-300,"z":2.71},{"a":-425,"b":-325,"z":2.87},{"a":-425,"b":-350,"z":3.04},{"a":-425,"b":-375,"z":3.22},{"a":-425,"b":-400,"z":3.41},{"a":-425,"b":-425,"z":3.62},{"a":-425,"b":-450,"z":3.84},{"a":-425,"b":-475,"z":4.07},{"a":-425,"b":-500,"z":4.31},
{"a":-450,"b":500,"z":4.53},{"a":-450,"b":475,"z":4.29},{"a":-450,"b":450,"z":4.06},{"a":-450,"b":425,"z":3.84},{"a":-450,"b":400,"z":3.63},{"a":-450,"b":375,"z":3.44},{"a":-450,"b":350,"z":3.26},{"a":-450,"b":325,"z":3.09},{"a":-450,"b":300,"z":2.93},{"a":-450,"b":275,"z":2.79},{"a":-450,"b":250,"z":2.66},{"a":-450,"b":225,"z":2.54},{"a":-450,"b":200,"z":2.43},{"a":-450,"b":175,"z":2.34},{"a":-450,"b":150,"z":2.26},{"a":-450,"b":125,"z":2.19},{"a":-450,"b":100,"z":2.13},{"a":-450,"b":75,"z":2.09},{"a":-450,"b":50,"z":2.06},{"a":-450,"b":25,"z":2.04},{"a":-450,"b":0,"z":2.03},{"a":-450,"b":-25,"z":2.04},{"a":-450,"b":-50,"z":2.06},{"a":-450,"b":-75,"z":2.09},{"a":-450,"b":-100,"z":2.13},{"a":-450,"b":-125,"z":2.19},{"a":-450,"b":-150,"z":2.26},{"a":-450,"b":-175,"z":2.34},{"a":-450,"b":-200,"z":2.43},{"a":-450,"b":-225,"z":2.54},{"a":-450,"b":-250,"z":2.66},{"a":-450,"b":-275,"z":2.79},{"a":-450,"b":-300,"z":2.93},{"a":-450,"b":-325,"z":3.09},{"a":-450,"b":-350,"z":3.26},{"a":-450,"b":-375,"z":3.44},{"a":-450,"b":-400,"z":3.63},{"a":-450,"b":-425,"z":3.84},{"a":-450,"b":-450,"z":4.06},{"a":-450,"b":-475,"z":4.29},{"a":-450,"b":-500,"z":4.53},
{"a":-475,"b":500,"z":4.76},{"a":-475,"b":475,"z":4.52},{"a":-475,"b":450,"z":4.29},{"a":-475,"b":425,"z":4.07},{"a":-475,"b":400,"z":3.86},{"a":-475,"b":375,"z":3.67},{"a":-475,"b":350,"z":3.49},{"a":-475,"b":325,"z":3.32},{"a":-475,"b":300,"z":3.16},{"a":-475,"b":275,"z":3.02},{"a":-475,"b":250,"z":2.89},{"a":-475,"b":225,"z":2.77},{"a":-475,"b":200,"z":2.66},{"a":-475,"b":175,"z":2.57},{"a":-475,"b":150,"z":2.49},{"a":-475,"b":125,"z":2.42},{"a":-475,"b":100,"z":2.36},{"a":-475,"b":75,"z":2.32},{"a":-475,"b":50,"z":2.29},{"a":-475,"b":25,"z":2.27},{"a":-475,"b":0,"z":2.26},{"a":-475,"b":-25,"z":2.27},{"a":-475,"b":-50,"z":2.29},{"a":-475,"b":-75,"z":2.32},{"a":-475,"b":-100,"z":2.36},{"a":-475,"b":-125,"z":2.42},{"a":-475,"b":-150,"z":2.49},{"a":-475,"b":-175,"z":2.57},{"a":-475,"b":-200,"z":2.66},{"a":-475,"b":-225,"z":2.77},{"a":-475,"b":-250,"z":2.89},{"a":-475,"b":-275,"z":3.02},{"a":-475,"b":-300,"z":3.16},{"a":-475,"b":-325,"z":3.32},{"a":-475,"b":-350,"z":3.49},{"a":-475,"b":-375,"z":3.67},{"a":-475,"b":-400,"z":3.86},{"a":-475,"b":-425,"z":4.07},{"a":-475,"b":-450,"z":4.29},{"a":-475,"b":-475,"z":4.52},{"a":-475,"b":-500,"z":4.76},
{"a":-500,"b":500,"z":5},{"a":-500,"b":475,"z":4.76},{"a":-500,"b":450,"z":4.53},{"a":-500,"b":425,"z":4.31},{"a":-500,"b":400,"z":4.1},{"a":-500,"b":375,"z":3.91},{"a":-500,"b":350,"z":3.73},{"a":-500,"b":325,"z":3.56},{"a":-500,"b":300,"z":3.4},{"a":-500,"b":275,"z":3.26},{"a":-500,"b":250,"z":3.13},{"a":-500,"b":225,"z":3.01},{"a":-500,"b":200,"z":2.9},{"a":-500,"b":175,"z":2.81},{"a":-500,"b":150,"z":2.73},{"a":-500,"b":125,"z":2.66},{"a":-500,"b":100,"z":2.6},{"a":-500,"b":75,"z":2.56},{"a":-500,"b":50,"z":2.53},{"a":-500,"b":25,"z":2.51},{"a":-500,"b":0,"z":2.5},{"a":-500,"b":-25,"z":2.51},{"a":-500,"b":-50,"z":2.53},{"a":-500,"b":-75,"z":2.56},{"a":-500,"b":-100,"z":2.6},{"a":-500,"b":-125,"z":2.66},{"a":-500,"b":-150,"z":2.73},{"a":-500,"b":-175,"z":2.81},{"a":-500,"b":-200,"z":2.9},{"a":-500,"b":-225,"z":3.01},{"a":-500,"b":-250,"z":3.13},{"a":-500,"b":-275,"z":3.26},{"a":-500,"b":-300,"z":3.4},{"a":-500,"b":-325,"z":3.56},{"a":-500,"b":-350,"z":3.73},{"a":-500,"b":-375,"z":3.91},{"a":-500,"b":-400,"z":4.1},{"a":-500,"b":-425,"z":4.31},{"a":-500,"b":-450,"z":4.53},{"a":-500,"b":-475,"z":4.76},{"a":-500,"b":-500,"z":5}]
},
"layer":[
{"data":{"name":"axes"},"mark":{"type":"rule","color":"#111","strokeWidth":1},
"transform":[{"calculate":"275+(datum.a+500)*0.288-(datum.b+500)*0.223","as":"px"},{"calculate":"418-(datum.a+500)*0.069-(datum.b+500)*0.096-datum.z*42.6","as":"py"},{"calculate":"275+(datum.a2+500)*0.288-(datum.b2+500)*0.223","as":"px2"},{"calculate":"418-(datum.a2+500)*0.069-(datum.b2+500)*0.096-datum.z2*42.6","as":"py2"}],
"encoding":{"x":{"field":"px","type":"quantitative","scale":{"domain":[0,605],"range":[0,605]},"axis":null},"y":{"field":"py","type":"quantitative","scale":{"domain":[0,452],"range":[0,452]},"axis":null},"x2":{"field":"px2"},"y2":{"field":"py2"}}},
{"data":{"name":"contours"},"mark":{"type":"line","strokeWidth":1.2},
"transform":[{"window":[{"op":"row_number","as":"i"}]},{"calculate":"275+(datum.a+500)*0.288-(datum.b+500)*0.223","as":"px"},{"calculate":"418-(datum.a+500)*0.069-(datum.b+500)*0.096","as":"py"}],
"encoding":{"x":{"field":"px","type":"quantitative","scale":{"domain":[0,605],"range":[0,605]},"axis":null},"y":{"field":"py","type":"quantitative","scale":{"domain":[0,452],"range":[0,452]},"axis":null},"detail":{"field":"k"},"order":{"field":"i","type":"quantitative"},"color":{"field":"l","type":"quantitative","scale":{"domain":[0,0.833,1.667,2.5,3.333,4.167,5],"range":["#f00","#ff0","#0f0","#0ff","#00f","#f0f","#f00"]},"legend":null}}},
{"data":{"name":"dots"},"mark":{"type":"point","filled":true,"shape":"square","size":3,"color":"#3030ff","opacity":1},
"transform":[{"filter":"datum.series=='v1'"},{"calculate":"275+(datum.a+500)*0.288-(datum.b+500)*0.223","as":"px"},{"calculate":"418-(datum.a+500)*0.069-(datum.b+500)*0.096","as":"py"}],
"encoding":{"x":{"field":"px","type":"quantitative","scale":{"domain":[0,605],"range":[0,605]},"axis":null},"y":{"field":"py","type":"quantitative","scale":{"domain":[0,452],"range":[0,452]},"axis":null}}},
{"data":{"name":"dots"},"mark":{"type":"point","filled":true,"shape":"square","size":3,"color":"#ff2020","opacity":1},
"transform":[{"filter":"datum.series=='v2'"},{"calculate":"275+(datum.a+500)*0.288-(datum.b+500)*0.223","as":"px"},{"calculate":"418-(datum.a+500)*0.069-(datum.b+500)*0.096","as":"py"}],
"encoding":{"x":{"field":"px","type":"quantitative","scale":{"domain":[0,605],"range":[0,605]},"axis":null},"y":{"field":"py","type":"quantitative","scale":{"domain":[0,452],"range":[0,452]},"axis":null}}},
{"data":{"name":"surface"},"mark":{"type":"geoshape","stroke":"#000","strokeWidth":0.9},"projection":{"type":"identity","scale":1,"translate":[0,0]},
"transform":[{"window":[{"op":"lead","field":"z","as":"zb"}],"groupby":["a"],"sort":[{"field":"b","order":"ascending"}]},{"window":[{"op":"lead","field":"z","as":"za"},{"op":"lead","field":"zb","as":"zab"}],"groupby":["b"],"sort":[{"field":"a","order":"ascending"}]},{"filter":"isValid(datum.zb)&&isValid(datum.za)"},
{"calculate":"{type:'Feature',geometry:{type:'Polygon',coordinates:[[[275+(datum.a+500)*0.288-(datum.b+500)*0.223,418-(datum.a+500)*0.069-(datum.b+500)*0.096-datum.z*42.6],[275+(datum.a+s+500)*0.288-(datum.b+500)*0.223,418-(datum.a+s+500)*0.069-(datum.b+500)*0.096-datum.za*42.6],[275+(datum.a+s+500)*0.288-(datum.b+s+500)*0.223,418-(datum.a+s+500)*0.069-(datum.b+s+500)*0.096-datum.zab*42.6],[275+(datum.a+500)*0.288-(datum.b+s+500)*0.223,418-(datum.a+500)*0.069-(datum.b+s+500)*0.096-datum.zb*42.6],[275+(datum.a+500)*0.288-(datum.b+500)*0.223,418-(datum.a+500)*0.069-(datum.b+500)*0.096-datum.z*42.6]]]}}","as":"g"}],
"encoding":{"shape":{"field":"g","type":"geojson"},"color":{"field":"z","type":"quantitative","scale":{"domain":[0,0.833,1.667,2.5,3.333,4.167,5],"range":["#f00","#ff0","#0f0","#0ff","#00f","#f0f","#f00"]},"legend":null}}},
{"data":{"name":"labels"},"mark":{"type":"text","font":"Liberation Sans","fontSize":16.5,"color":"#222","align":"center","baseline":"middle"},
"transform":[{"calculate":"275+(datum.a+500)*0.288-(datum.b+500)*0.223","as":"px"},{"calculate":"418-(datum.a+500)*0.069-(datum.b+500)*0.096-datum.z*42.6","as":"py"}],
"encoding":{"x":{"field":"px","type":"quantitative","scale":{"domain":[0,605],"range":[0,605]},"axis":null},"y":{"field":"py","type":"quantitative","scale":{"domain":[0,452],"range":[0,452]},"axis":null},"text":{"field":"t"}}},
{"data":{"name":"sup"},"mark":{"type":"text","font":"Liberation Sans","fontSize":12,"color":"#222","align":"center","baseline":"middle"},
"transform":[{"calculate":"275+(datum.a+500)*0.288-(datum.b+500)*0.223","as":"px"},{"calculate":"418-(datum.a+500)*0.069-(datum.b+500)*0.096-datum.z*42.6","as":"py"}],
"encoding":{"x":{"field":"px","type":"quantitative","scale":{"domain":[0,605],"range":[0,605]},"axis":null},"y":{"field":"py","type":"quantitative","scale":{"domain":[0,452],"range":[0,452]},"axis":null},"text":{"field":"t"}}},
{"data":{"name":"zlabel"},"mark":{"type":"text","font":"Liberation Sans","fontSize":16,"color":"#222","align":"center","baseline":"middle","angle":270},
"transform":[{"calculate":"275+(datum.a+500)*0.288-(datum.b+500)*0.223","as":"px"},{"calculate":"418-(datum.a+500)*0.069-(datum.b+500)*0.096-datum.z*42.6","as":"py"}],
"encoding":{"x":{"field":"px","type":"quantitative","scale":{"domain":[0,605],"range":[0,605]},"axis":null},"y":{"field":"py","type":"quantitative","scale":{"domain":[0,452],"range":[0,452]},"axis":null},"text":{"field":"t"}}}
]}
